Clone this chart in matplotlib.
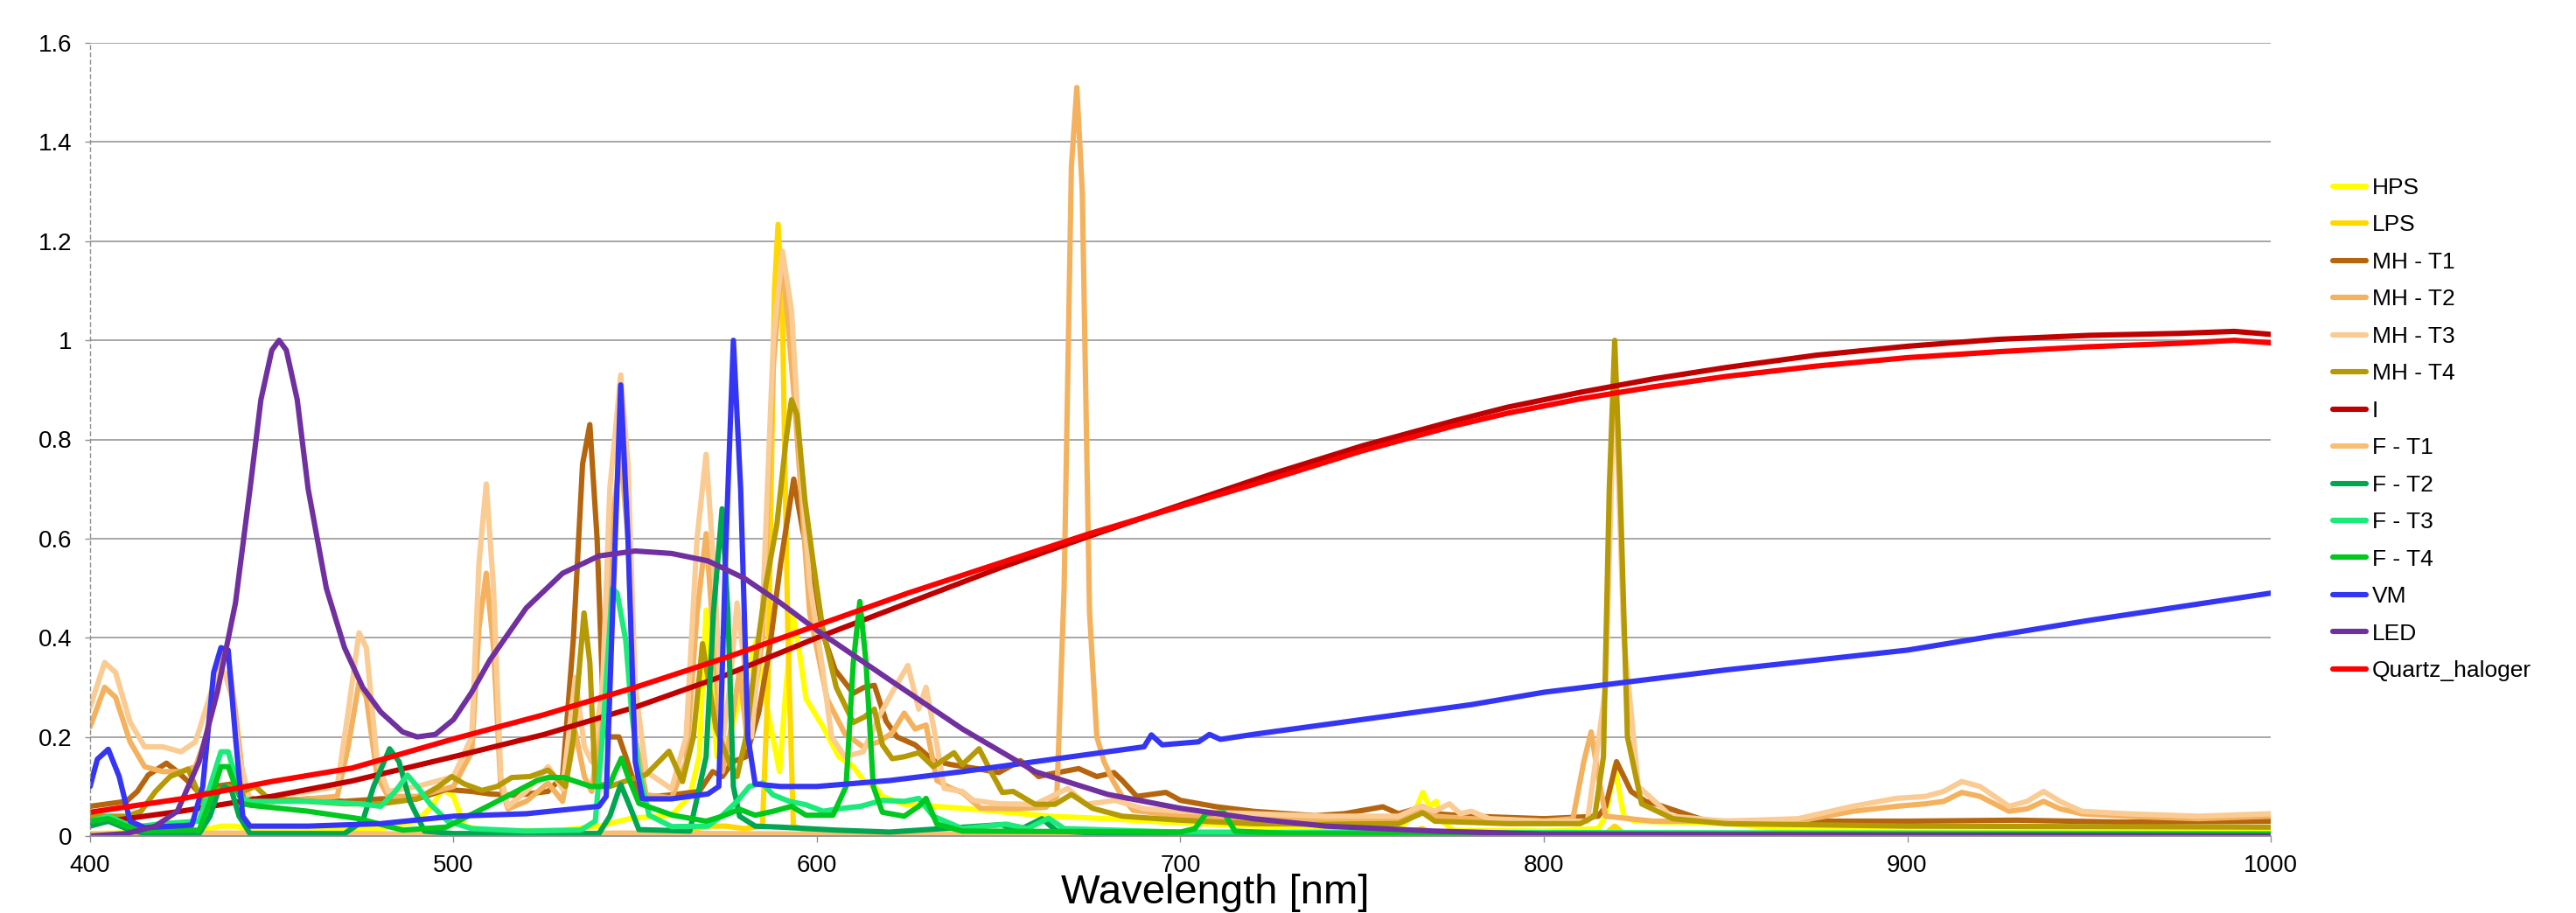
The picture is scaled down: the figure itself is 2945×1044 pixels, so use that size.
import matplotlib.pyplot as plt
from matplotlib.ticker import FixedLocator, FixedFormatter

plt.rcParams['font.family'] = ['Liberation Sans', 'DejaVu Sans']

# ---- data (wavelength in nm, relative intensity) ----
hps_wl = [400, 420, 430, 436, 440, 445, 460, 480, 490, 494, 497, 500, 503, 510, 530, 540, 549, 560, 565,
          567.6, 569.5, 571, 572.5, 576, 578.7, 581, 583.3, 586.5, 589.7, 591.5, 593.4, 595, 597, 601.7,
          606, 610, 613, 615.8, 618, 624, 640, 664, 680, 696, 720, 740, 760, 764, 766.7, 768.5, 770.4,
          772, 775, 800, 815, 817, 819.5, 822, 825, 850, 870, 900, 950, 1000]
hps_val = [0.005, 0.008, 0.01, 0.02, 0.02, 0.01, 0.01, 0.015, 0.03, 0.06, 0.095, 0.08, 0.02, 0.01, 0.012,
           0.02, 0.036, 0.042, 0.08, 0.16, 0.456, 0.3, 0.16, 0.2, 0.277, 0.33, 0.394, 0.25, 0.13, 0.3,
           0.447, 0.38, 0.277, 0.22, 0.16, 0.14, 0.11, 0.1, 0.08, 0.064, 0.056, 0.04, 0.035, 0.028, 0.02,
           0.018, 0.015, 0.04, 0.088, 0.06, 0.07, 0.03, 0.012, 0.01, 0.015, 0.04, 0.141, 0.04, 0.03,
           0.025, 0.012, 0.01, 0.008, 0.008]

lps_wl = [400, 560, 570, 575, 580, 585, 586.5, 588.3, 589.3, 590.5, 592, 593.5, 600, 760, 766.5, 770,
          817, 819.5, 822, 1000]
lps_val = [0.003, 0.003, 0.02, 0.02, 0.015, 0.02, 0.3, 1.1, 1.234, 1.05, 0.4, 0.02, 0.005, 0.003, 0.015,
           0.003, 0.005, 0.02, 0.005, 0.003]

mh1_wl = [400, 405, 410, 413, 416, 421, 424, 427, 431, 434, 440, 444, 450, 460, 470, 480, 490, 498, 505,
          510, 517, 526, 530, 533, 535.5, 537.5, 539.5, 541.4, 543, 545.5, 547.4, 551, 560, 567.6, 571.3,
          574, 576.8, 580.5, 584, 587, 590, 593.6, 596, 599, 602, 605, 610, 613, 615.8, 619, 622, 627,
          632, 637, 644, 650, 656, 661, 664, 672, 677, 681.7, 684, 688, 696, 700, 710, 720, 737, 745,
          755.7, 760, 766.7, 770, 780, 800, 815, 817, 820, 824, 828, 830.6, 835.5, 845, 870, 900, 930,
          960, 1000]
mh1_val = [0.06, 0.065, 0.07, 0.09, 0.123, 0.147, 0.13, 0.11, 0.08, 0.1, 0.106, 0.076, 0.07, 0.075, 0.07,
           0.075, 0.075, 0.094, 0.09, 0.085, 0.082, 0.09, 0.12, 0.4, 0.75, 0.83, 0.6, 0.217, 0.2, 0.2,
           0.16, 0.077, 0.083, 0.09, 0.13, 0.12, 0.15, 0.16, 0.25, 0.38, 0.55, 0.72, 0.62, 0.51, 0.4,
           0.335, 0.288, 0.3, 0.304, 0.232, 0.2, 0.184, 0.152, 0.144, 0.136, 0.128, 0.152, 0.12, 0.125,
           0.136, 0.12, 0.128, 0.112, 0.08, 0.088, 0.072, 0.059, 0.05, 0.041, 0.045, 0.059, 0.045, 0.059,
           0.045, 0.04, 0.035, 0.04, 0.06, 0.15, 0.09, 0.07, 0.065, 0.053, 0.03, 0.03, 0.03, 0.032,
           0.028, 0.03]

mh2_wl = [400, 404, 407, 411, 415, 420, 425, 429, 432, 434, 436, 438, 440, 442, 444, 450, 460, 468, 471,
          474, 476, 479, 482, 490, 500, 505, 507, 509, 511, 513, 515, 520, 526, 530, 533.5, 536, 538,
          541, 543, 546, 548, 550, 553, 560, 564, 567, 569.5, 572, 574, 576, 578.7, 581, 585, 588, 590.5,
          594, 598, 602.8, 607.7, 612.7, 617, 620.7, 624, 627, 630, 633, 637, 640, 645, 655, 663, 666,
          668, 670, 671.5, 673, 675, 677, 679, 681.4, 684.6, 687, 700, 720, 740, 760, 766, 770, 780,
          800, 808, 811, 813, 815, 817, 830, 850, 870, 885, 897, 905, 910, 915, 920, 928, 933, 937.5,
          942, 948, 960, 980, 1000]
mh2_val = [0.22, 0.3, 0.28, 0.19, 0.14, 0.13, 0.13, 0.14, 0.2, 0.3, 0.37, 0.36, 0.25, 0.12, 0.07, 0.07,
           0.075, 0.08, 0.18, 0.31, 0.28, 0.12, 0.08, 0.08, 0.1, 0.17, 0.42, 0.53, 0.38, 0.1, 0.055, 0.07,
           0.107, 0.07, 0.21, 0.12, 0.09, 0.25, 0.6, 0.77, 0.6, 0.2, 0.083, 0.077, 0.15, 0.45, 0.61, 0.35,
           0.13, 0.2, 0.335, 0.18, 0.4, 0.95, 1.17, 0.86, 0.45, 0.276, 0.206, 0.18, 0.19, 0.208, 0.248,
           0.216, 0.224, 0.112, 0.096, 0.088, 0.056, 0.055, 0.058, 0.08, 0.5, 1.35, 1.51, 1.3, 0.45, 0.2,
           0.15, 0.112, 0.072, 0.052, 0.04, 0.035, 0.035, 0.035, 0.05, 0.04, 0.035, 0.03, 0.035, 0.15,
           0.21, 0.12, 0.04, 0.03, 0.03, 0.03, 0.05, 0.06, 0.065, 0.07, 0.088, 0.08, 0.05, 0.055, 0.07,
           0.055, 0.045, 0.04, 0.035, 0.04]

mh3_wl = [400, 404, 407, 411, 415, 420, 425, 429, 432, 435, 437, 439, 441, 444, 450, 460, 468, 471, 474,
          476, 479, 482, 490, 500, 505, 507, 509, 511, 513, 515, 520, 526, 530, 533.5, 536, 538, 541,
          543, 546, 548, 550, 553, 560, 564, 567, 569.5, 572, 574, 576, 578, 580, 582, 585, 588, 590.5,
          593, 595.5, 598, 601.6, 604, 607.7, 612.7, 617, 620.7, 625, 628, 630, 633, 635, 640, 643, 650,
          660, 669, 674, 682, 690, 700, 720, 740, 760, 766, 770, 774, 777, 780, 785, 800, 812, 817,
          819.5, 822, 826, 835, 850, 870, 885, 897, 905, 910, 915, 920, 928, 933, 937.5, 942, 948, 960,
          980, 1000]
mh3_val = [0.26, 0.35, 0.33, 0.23, 0.18, 0.18, 0.17, 0.19, 0.26, 0.33, 0.33, 0.28, 0.16, 0.07, 0.08,
           0.09, 0.1, 0.25, 0.41, 0.38, 0.15, 0.09, 0.1, 0.12, 0.2, 0.55, 0.71, 0.5, 0.12, 0.06, 0.09,
           0.14, 0.095, 0.32, 0.18, 0.15, 0.3, 0.7, 0.93, 0.75, 0.3, 0.13, 0.095, 0.2, 0.6, 0.77, 0.5,
           0.19, 0.3, 0.47, 0.35, 0.2, 0.45, 1.0, 1.18, 1.06, 0.75, 0.51, 0.335, 0.2, 0.16, 0.17, 0.24,
           0.29, 0.344, 0.256, 0.3, 0.184, 0.096, 0.09, 0.072, 0.065, 0.064, 0.096, 0.064, 0.072, 0.055,
           0.05, 0.045, 0.04, 0.04, 0.06, 0.05, 0.065, 0.045, 0.05, 0.035, 0.03, 0.03, 0.3, 0.95, 0.4,
           0.1, 0.04, 0.03, 0.035, 0.06, 0.076, 0.08, 0.09, 0.11, 0.1, 0.06, 0.07, 0.09, 0.07, 0.05,
           0.045, 0.04, 0.045]

mh4_wl = [400, 410, 414, 418, 422, 427, 431, 434, 438, 442, 445.5, 449, 460, 470, 480, 490, 495.9, 499.5,
          503, 507.8, 512, 516, 521, 526, 530.8, 533, 535.9, 537.5, 539, 543, 547, 553, 559.3, 563, 566,
          568.5, 570, 572.2, 575.9, 578, 580.5, 583, 586, 589, 591.5, 593, 594.5, 596.7, 599, 601.6,
          605.3, 610, 613, 615.8, 618, 620.7, 624, 628, 632, 637.7, 640, 644.6, 648, 651, 654, 660,
          665.5, 670, 675.8, 684, 700, 720, 737, 760, 766.7, 770, 790, 810, 814, 816.4, 818, 819.5, 821,
          823, 826.9, 835.5, 850, 900, 1000]
mh4_val = [0.04, 0.04, 0.05, 0.09, 0.12, 0.135, 0.065, 0.09, 0.1, 0.09, 0.1, 0.076, 0.07, 0.065, 0.065,
           0.075, 0.1, 0.12, 0.105, 0.092, 0.1, 0.118, 0.12, 0.133, 0.1, 0.2, 0.45, 0.35, 0.107, 0.1,
           0.11, 0.124, 0.171, 0.11, 0.2, 0.388, 0.32, 0.218, 0.148, 0.12, 0.2, 0.35, 0.51, 0.63, 0.8,
           0.88, 0.85, 0.676, 0.55, 0.417, 0.3, 0.229, 0.24, 0.256, 0.184, 0.156, 0.16, 0.168, 0.14,
           0.168, 0.144, 0.176, 0.128, 0.088, 0.09, 0.064, 0.064, 0.084, 0.056, 0.04, 0.032, 0.025, 0.024,
           0.025, 0.047, 0.03, 0.025, 0.025, 0.04, 0.16, 0.7, 1.0, 0.7, 0.2, 0.065, 0.035, 0.025, 0.02,
           0.018]

inc_wl = [400, 425, 450, 472, 500, 525, 550, 575, 600, 625, 650, 675, 700, 725, 750, 775, 790, 810, 830,
          850, 875, 900, 925, 950, 975, 990, 1000]
inc_val = [0.025, 0.05, 0.08, 0.111, 0.16, 0.205, 0.26, 0.325, 0.4, 0.47, 0.54, 0.605, 0.668, 0.73,
           0.787, 0.837, 0.865, 0.895, 0.922, 0.945, 0.97, 0.988, 1.002, 1.01, 1.014, 1.018, 1.012]

ft1_wl = [400, 436, 500, 546, 600, 700, 1000]
ft1_val = [0.004, 0.006, 0.004, 0.006, 0.004, 0.003, 0.003]

ft2_wl = [400, 405, 410, 415, 430, 433, 435, 437, 439, 441, 444, 470, 475, 478, 482.4, 485, 488, 492,
          500, 540, 543, 546, 548.5, 551, 565, 569.5, 571.5, 573.9, 575.5, 577, 578.7, 583, 590, 605,
          620, 650.8, 655, 661.9, 666, 680, 1000]
ft2_val = [0.02, 0.03, 0.015, 0.005, 0.005, 0.04, 0.085, 0.1, 0.09, 0.04, 0.005, 0.005, 0.03, 0.1,
           0.176, 0.15, 0.07, 0.01, 0.005, 0.005, 0.04, 0.104, 0.06, 0.013, 0.01, 0.16, 0.45, 0.66, 0.45,
           0.1, 0.04, 0.02, 0.018, 0.012, 0.008, 0.023, 0.01, 0.035, 0.01, 0.005, 0.003]

ft3_wl = [400, 405, 412, 420, 430, 433, 436, 438, 440, 442, 444, 460, 474, 480, 484, 487.3, 490, 493.5,
          498.4, 505, 520, 535, 539, 541, 543.7, 545, 547.4, 549, 551, 553.8, 560, 570, 574, 578, 581.4,
          585, 587.9, 592.4, 597, 601.7, 606, 612, 618, 624, 628, 632, 640, 652, 658, 663.7, 668, 690,
          700, 1000]
ft3_val = [0.03, 0.04, 0.018, 0.025, 0.03, 0.1, 0.17, 0.17, 0.12, 0.076, 0.07, 0.07, 0.065, 0.06, 0.09,
           0.123, 0.1, 0.065, 0.03, 0.015, 0.01, 0.012, 0.03, 0.2, 0.5, 0.49, 0.394, 0.25, 0.13, 0.042,
           0.019, 0.02, 0.042, 0.07, 0.1, 0.107, 0.083, 0.07, 0.063, 0.05, 0.055, 0.06, 0.072, 0.07,
           0.076, 0.04, 0.015, 0.024, 0.015, 0.036, 0.015, 0.01, 0.008, 0.005]

ft4_wl = [400, 405, 410, 415, 430, 433, 436, 438, 440, 442, 444.3, 460, 474, 486, 498, 510.7, 523, 526,
          530.4, 537.8, 542.7, 544.5, 546.2, 548, 551, 560.3, 569.5, 574, 578.7, 583, 588, 593, 597,
          604.4, 608, 610, 611.8, 613.5, 615.5, 618, 624, 628, 630, 633, 640, 700, 704, 707, 712, 715,
          730, 1000]
ft4_val = [0.03, 0.035, 0.02, 0.01, 0.012, 0.07, 0.14, 0.14, 0.1, 0.065, 0.062, 0.05, 0.035, 0.012,
           0.018, 0.065, 0.112, 0.118, 0.118, 0.1, 0.1, 0.13, 0.157, 0.12, 0.066, 0.042, 0.03, 0.04,
           0.054, 0.042, 0.05, 0.06, 0.042, 0.042, 0.1, 0.35, 0.473, 0.35, 0.1, 0.048, 0.04, 0.06, 0.076,
           0.024, 0.01, 0.008, 0.015, 0.045, 0.047, 0.01, 0.005, 0.003]

vm_wl = [400, 402, 405, 408, 411, 415, 428, 431, 434, 436, 438, 440, 442, 444, 460, 480, 500, 520, 540,
         542, 544, 546, 548, 550, 552, 560, 570, 573, 575, 577, 579, 581, 583, 590, 600, 620, 640, 660,
         680, 690, 692, 695, 705, 708, 711, 720, 740, 760, 780, 800, 850, 900, 950, 1000]
vm_val = [0.1, 0.155, 0.175, 0.12, 0.03, 0.017, 0.022, 0.1, 0.33, 0.38, 0.375, 0.2, 0.04, 0.02, 0.02,
          0.025, 0.04, 0.045, 0.06, 0.08, 0.5, 0.91, 0.6, 0.15, 0.075, 0.075, 0.085, 0.1, 0.6, 1.0, 0.7,
          0.2, 0.105, 0.1, 0.1, 0.112, 0.13, 0.15, 0.17, 0.18, 0.204, 0.184, 0.19, 0.205, 0.195, 0.205,
          0.225, 0.245, 0.265, 0.29, 0.335, 0.375, 0.435, 0.49]

led_wl = [400, 410, 418, 424, 430, 435, 440, 444, 447, 450, 452, 454, 457, 460, 465, 470, 475, 480, 486,
          490, 495, 500, 505, 510, 520, 530, 540, 550, 560, 570, 580, 590, 600, 620, 640, 660, 680, 700,
          720, 740, 770, 800, 1000]
led_val = [0.0, 0.005, 0.02, 0.05, 0.15, 0.29, 0.47, 0.7, 0.88, 0.98, 1.0, 0.98, 0.88, 0.7, 0.5, 0.38,
           0.3, 0.25, 0.21, 0.2, 0.205, 0.235, 0.29, 0.355, 0.46, 0.53, 0.565, 0.575, 0.57, 0.555, 0.52,
           0.47, 0.415, 0.315, 0.216, 0.13, 0.084, 0.056, 0.035, 0.02, 0.01, 0.004, 0.0]

qh_wl = [400, 425, 450, 472, 500, 525, 550, 575, 600, 625, 650, 675, 700, 725, 750, 775, 790, 810, 830,
         850, 875, 900, 925, 950, 975, 990, 1000]
qh_val = [0.048, 0.075, 0.11, 0.137, 0.196, 0.245, 0.3, 0.36, 0.425, 0.49, 0.55, 0.61, 0.665, 0.72,
          0.777, 0.827, 0.853, 0.882, 0.906, 0.927, 0.948, 0.965, 0.977, 0.987, 0.994, 1.0, 0.995]

names = ['HPS', 'LPS', 'MH - T1', 'MH - T2', 'MH - T3', 'MH - T4', 'I',
         'F - T1', 'F - T2', 'F - T3', 'F - T4', 'VM', 'LED', 'Quartz_haloger']
colors = ['#FFFF00', '#FFD800', '#B5650D', '#F4B15E', '#FACB92', '#B59A05', '#C00000',
          '#F7BE74', '#00A650', '#1AEB7A', '#00C81E', '#3535F5', '#7030A0', '#FF0000']
series = [(hps_wl, hps_val), (lps_wl, lps_val), (mh1_wl, mh1_val), (mh2_wl, mh2_val),
          (mh3_wl, mh3_val), (mh4_wl, mh4_val), (inc_wl, inc_val), (ft1_wl, ft1_val),
          (ft2_wl, ft2_val), (ft3_wl, ft3_val), (ft4_wl, ft4_val), (vm_wl, vm_val),
          (led_wl, led_val), (qh_wl, qh_val)]

x_ticks = [400, 500, 600, 700, 800, 900, 1000]
y_ticks = [0, 0.2, 0.4, 0.6, 0.8, 1.0, 1.2, 1.4, 1.6]
y_labels = ['0', '0.2', '0.4', '0.6', '0.8', '1', '1.2', '1.4', '1.6']

fig = plt.figure(figsize=(29.45, 10.44), dpi=100)
ax = fig.add_axes([103 / 2945, 88 / 1044, 2493 / 2945, 907 / 1044])

for (wl, val), name, c in zip(series, names, colors):
    ax.plot(wl, val, color=c, lw=4.4, label=name, solid_joinstyle='round', solid_capstyle='round')

ax.set_xlim(400, 1000)
ax.set_ylim(0, 1.6)
ax.xaxis.set_major_locator(FixedLocator(x_ticks))
ax.yaxis.set_major_locator(FixedLocator(y_ticks))
ax.yaxis.set_major_formatter(FixedFormatter(y_labels))
ax.grid(axis='y', color='#A6A6A6', lw=1.4)
ax.set_axisbelow(True)

for s in ['top', 'right']:
    ax.spines[s].set_visible(False)
ax.spines['left'].set_linestyle((0, (3, 3)))
ax.spines['left'].set_color('#909090')
ax.spines['left'].set_linewidth(1.0)
ax.spines['bottom'].set_color('#909090')
ax.spines['bottom'].set_linewidth(1.3)
ax.tick_params(axis='x', length=5, width=1, color='#909090', pad=10, labelsize=20)
ax.tick_params(axis='y', length=4, width=1, color='#909090', pad=11, labelsize=20)

fig.text(1389 / 2945, 11 / 1044, 'Wavelength [nm]', ha='center', va='baseline', fontsize=34)

ax.legend(loc='upper left', bbox_to_anchor=(2667 / 2945, 1 - 203 / 1044), bbox_transform=fig.transFigure,
          frameon=False, fontsize=19, handlelength=1.45, handletextpad=0.25, labelspacing=0.7,
          borderpad=0, borderaxespad=0)

fig.savefig('out.png', dpi=100)
